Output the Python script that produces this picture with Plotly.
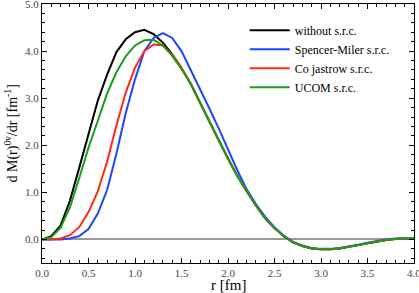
import plotly.graph_objects as go

r = [round(i * 0.1, 1) for i in range(41)]

tail = [3.3, 2.9, 2.5, 2.1, 1.72, 1.35, 1.02, 0.72, 0.45, 0.24, 0.07, -0.06, -0.14, -0.19,
        -0.21, -0.21, -0.19, -0.16, -0.12, -0.08, -0.04, -0.01, 0.01, 0.02, 0.03]

without_src = [0.0, 0.07, 0.3, 0.82, 1.52, 2.25, 2.95, 3.5, 3.98, 4.25, 4.4, 4.45, 4.36, 4.18,
               3.93, 3.64] + tail
ucom_src = [0.0, 0.05, 0.25, 0.68, 1.3, 1.95, 2.52, 3.1, 3.55, 3.89, 4.12, 4.23, 4.24, 4.12,
            3.9, 3.62] + tail
co_jastrow = [0.0, 0.0, 0.02, 0.09, 0.26, 0.58, 1.02, 1.65, 2.42, 3.12, 3.65, 4.0, 4.14, 4.12,
              3.92, 3.64, 3.31] + tail[1:]
spencer_miler = [0.0, 0.0, 0.0, 0.02, 0.07, 0.22, 0.55, 1.05, 1.82, 2.68, 3.4, 4.0, 4.28, 4.38,
                 4.28, 4.0, 3.6, 3.2, 2.78, 2.36, 1.92, 1.47, 1.07, 0.75, 0.48, 0.26, 0.08,
                 -0.05, -0.13, -0.18, -0.2, -0.2, -0.18, -0.15, -0.11, -0.07, -0.03, 0.0,
                 0.02, 0.03, 0.03]

series = [
    ("without s.r.c.", without_src, "#000000"),
    ("Spencer-Miler s.r.c.", spencer_miler, "#1f45ff"),
    ("Co jastrow s.r.c.", co_jastrow, "#ff2a14"),
    ("UCOM s.r.c.", ucom_src, "#1b9e1b"),
]

fig = go.Figure()
for name, vals, col in series:
    fig.add_trace(go.Scatter(x=r, y=vals, mode="lines", name=name,
                             line=dict(color=col, width=2)))

font = "Liberation Serif"
axis_common = dict(
    showline=True, linecolor="black", linewidth=1, mirror="allticks",
    ticks="inside", ticklen=5, tickcolor="black", showgrid=False,
    tickfont=dict(family=font, size=11, color="#444"),
    tickformat=".1f", automargin=False, ticklabeloverflow="allow",
)
fig.update_xaxes(range=[-0.0001, 4.0001], dtick=0.5, tick0=0,
                 minor=dict(dtick=0.1, ticks="inside", ticklen=3, tickcolor="black"),
                 zeroline=False, **axis_common)
fig.update_yaxes(range=[-0.5, 5.0001], dtick=1, tick0=0,
                 minor=dict(dtick=0.2, tick0=0, ticks="inside", ticklen=3, tickcolor="black"),
                 zeroline=True, zerolinecolor="#999", zerolinewidth=1.5,
                 **axis_common)

fig.add_annotation(text="r [fm]", xref="paper", yref="paper", x=0.5, y=0,
                   yshift=-21.5, xanchor="center", yanchor="middle", showarrow=False,
                   font=dict(family=font, size=15, color="black"))
fig.add_annotation(text="d M(r)<sup>0ν</sup>/dr [fm<sup>-1</sup>]", xref="paper", yref="paper",
                   x=0, y=0.5, xshift=-30, xanchor="center", yanchor="middle",
                   textangle=-90, showarrow=False,
                   font=dict(family=font, size=14, color="black"))

fig.update_layout(
    width=419, height=293,
    margin=dict(l=42, r=5, t=4, b=30),
    plot_bgcolor="white", paper_bgcolor="white",
    showlegend=True,
    legend=dict(x=0.545, y=0.955, xanchor="left", yanchor="top",
                bgcolor="rgba(0,0,0,0)", borderwidth=0, itemwidth=40,
                font=dict(family=font, size=12, color="black"),
                tracegroupgap=0),
)

fig.write_html("out.html", config={"displayModeBar": False},
               post_script="document.body.style.margin='0';document.body.style.overflow='hidden';")
